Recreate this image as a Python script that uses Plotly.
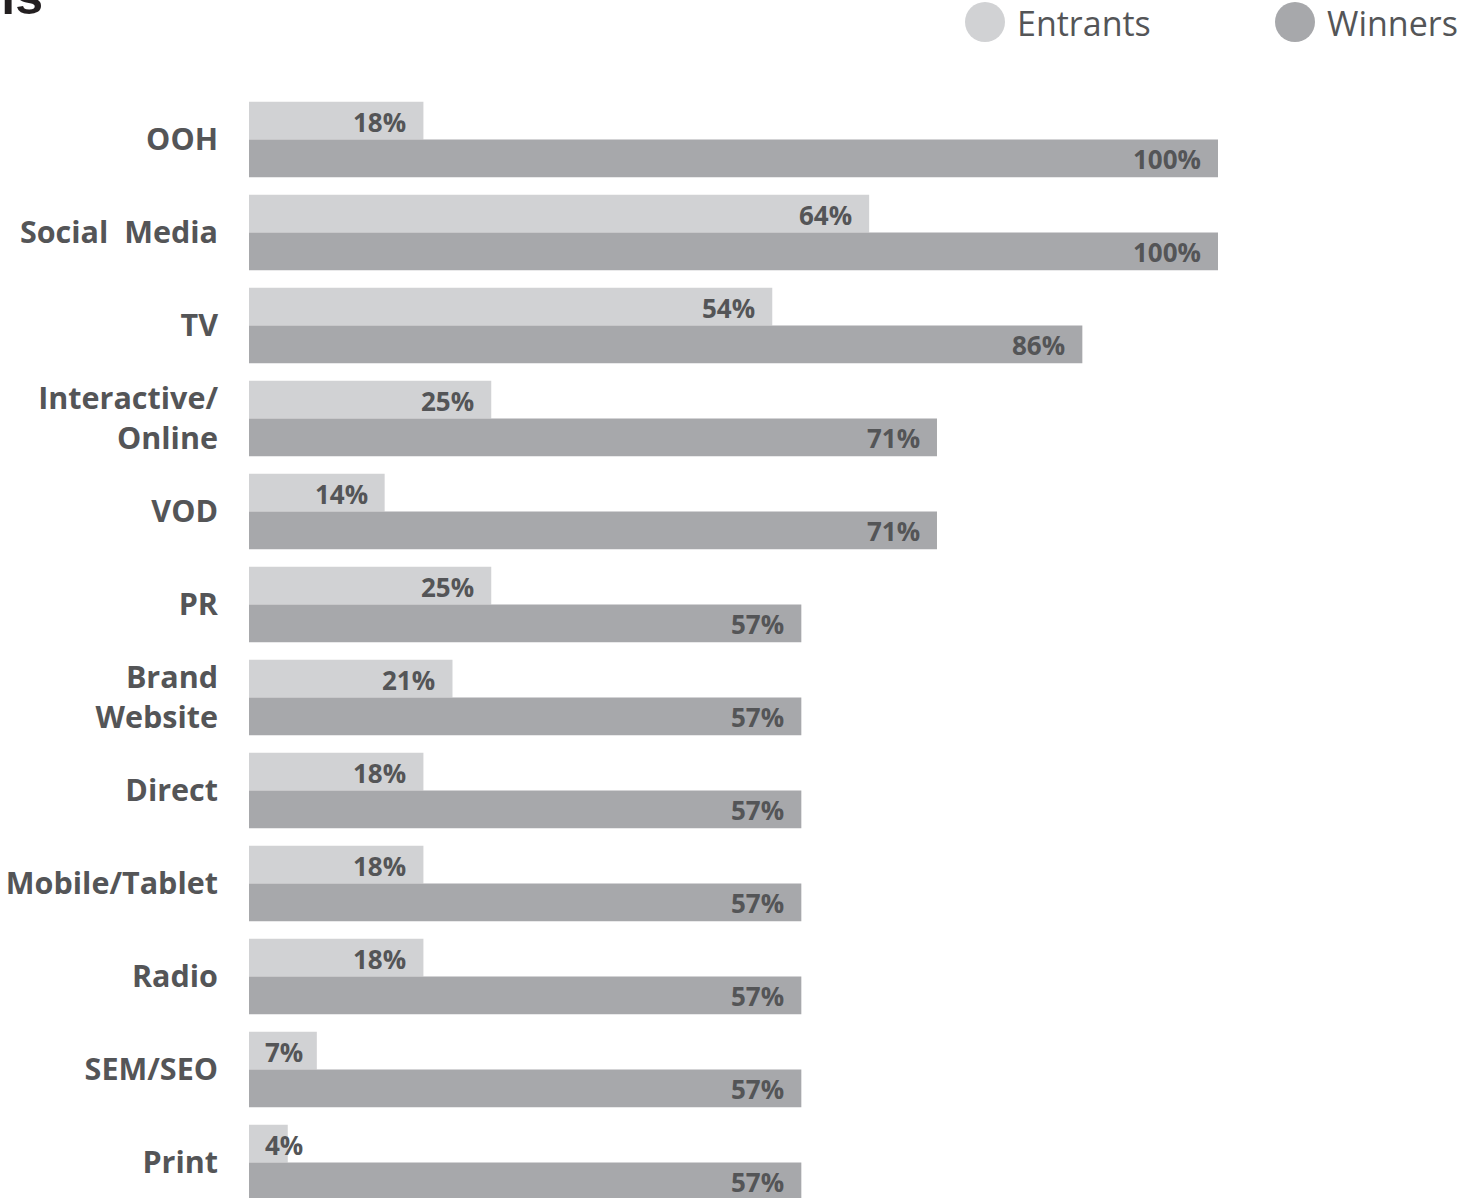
import plotly.graph_objects as go

# Media channels used by award entrants vs. winners (share of campaigns, %)
channels = ["OOH", "Social\u00a0 Media", "TV", "Interactive/<br>Online", "VOD", "PR",
            "Brand<br>Website", "Direct", "Mobile/Tablet", "Radio", "SEM/SEO", "Print"]
entrants = [18, 64, 54, 25, 14, 25, 21, 18, 18, 18, 7, 4]
winners = [100, 100, 86, 71, 71, 57, 57, 57, 57, 57, 57, 57]
series_names = ["Entrants", "Winners"]

ENTRANT_COLOR = "#D1D2D4"
WINNER_COLOR = "#A7A8AB"
TEXT_COLOR = "#545557"
FONT = "Open Sans"

W, H = 1462, 1198
ML, MR, MT, MB = 249, 244, 93, 0
plot_h = H - MT - MB
row_px = 93.0
y_bottom = -0.5 + plot_h / row_px

fig = go.Figure()
fig.add_trace(go.Bar(y=channels, x=entrants, name=series_names[0], orientation="h",
                     marker=dict(color=ENTRANT_COLOR, line=dict(width=0))))
fig.add_trace(go.Bar(y=channels, x=winners, name=series_names[1], orientation="h",
                     marker=dict(color=WINNER_COLOR, line=dict(width=0))))

bargap = 0.19
half = (1 - bargap) / 4  # centre offset of each bar inside its group

annotations = []
for i, (e, w) in enumerate(zip(entrants, winners)):
    for val, off in ((e, -half), (w, half)):
        if val < 10:
            ann = dict(x=0, xanchor="left", xshift=14)
        else:
            ann = dict(x=val, xanchor="right", xshift=-15)
        ann.update(y=i + off, yanchor="middle", yshift=-1, text=f"{val}%",
                   showarrow=False, xref="x", yref="y",
                   font=dict(family=FONT, size=26, color=TEXT_COLOR, weight="bold"))
        annotations.append(ann)

def px_x(px):
    return (px - ML) / (W - ML - MR)

def px_y(py):
    return (H - MB - py) / plot_h

# Legend drawn as large dots with labels
shapes = []
for name, color, cx, tx in ((series_names[0], ENTRANT_COLOR, 985, 1015),
                            (series_names[1], WINNER_COLOR, 1295, 1325)):
    shapes.append(dict(type="circle", xref="paper", yref="paper",
                       x0=px_x(cx - 20), x1=px_x(cx + 20), y0=px_y(42), y1=px_y(2),
                       fillcolor=color, line=dict(width=0)))
    annotations.append(dict(x=px_x(tx), y=px_y(23), xref="paper", yref="paper",
                            xanchor="left", yanchor="middle", text=name, showarrow=False,
                            font=dict(family=FONT, size=34, color=TEXT_COLOR)))

# Chart title, largely above the top edge of the page
annotations.append(dict(x=px_x(45), y=px_y(-3), xref="paper", yref="paper",
                        xanchor="right", yanchor="middle", text="<b>Channels</b>",
                        showarrow=False,
                        font=dict(family="Liberation Sans", size=50, color="#231F20")))

fig.update_layout(
    width=W, height=H,
    margin=dict(l=ML, r=MR, t=MT, b=MB, autoexpand=False),
    barmode="group", bargap=bargap, bargroupgap=0,
    plot_bgcolor="white", paper_bgcolor="white",
    showlegend=False,
    xaxis=dict(range=[0, 100], visible=False, fixedrange=True),
    yaxis=dict(type="category", categoryorder="array", categoryarray=channels,
               range=[y_bottom, -0.5], showgrid=False, zeroline=False, showline=False,
               ticks="", ticklabelstandoff=30,
               tickfont=dict(family=FONT, size=30.5, color=TEXT_COLOR, weight="bold")),
    annotations=annotations, shapes=shapes,
)

fig.write_html("out.html")
